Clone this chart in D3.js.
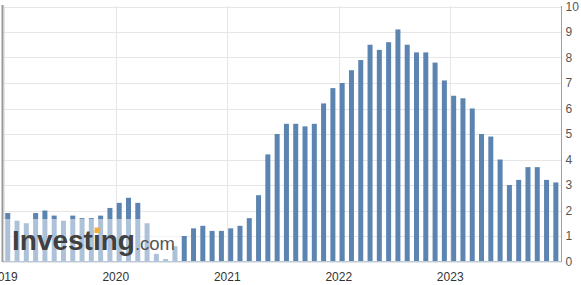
<!DOCTYPE html>
<html>
<head>
<meta charset="utf-8">
<script src="https://cdn.jsdelivr.net/npm/d3@7"></script>
<style>
  body { margin: 0; background: #fff; }
  svg { display: block; font-family: "Liberation Sans", Arial, sans-serif; }
</style>
</head>
<body>
<div id="chart"></div>
<script>
// reference month of each bar (bars sit at the release month)
const categories = ["Dec 2018","Jan 2019","Feb 2019","Mar 2019","Apr 2019","May 2019","Jun 2019","Jul 2019","Aug 2019","Sep 2019","Oct 2019","Nov 2019",
  "Dec 2019","Jan 2020","Feb 2020","Mar 2020","Apr 2020","May 2020","Jun 2020","Jul 2020","Aug 2020","Sep 2020","Oct 2020","Nov 2020",
  "Dec 2020","Jan 2021","Feb 2021","Mar 2021","Apr 2021","May 2021","Jun 2021","Jul 2021","Aug 2021","Sep 2021","Oct 2021","Nov 2021",
  "Dec 2021","Jan 2022","Feb 2022","Mar 2022","Apr 2022","May 2022","Jun 2022","Jul 2022","Aug 2022","Sep 2022","Oct 2022","Nov 2022",
  "Dec 2022","Jan 2023","Feb 2023","Mar 2023","Apr 2023","May 2023","Jun 2023","Jul 2023","Aug 2023","Sep 2023","Oct 2023","Nov 2023"];
const values = [1.9,1.6,1.5,1.9,2.0,1.8,1.6,1.8,1.7,1.7,1.8,2.1,
  2.3,2.5,2.3,1.5,0.3,0.1,0.6,1.0,1.3,1.4,1.2,1.2,
  1.3,1.4,1.7,2.6,4.2,5.0,5.4,5.4,5.3,5.4,6.2,6.8,
  7.0,7.5,7.9,8.5,8.3,8.6,9.1,8.5,8.2,8.2,7.8,7.1,
  6.5,6.4,6.0,5.0,4.9,4.0,3.0,3.2,3.7,3.7,3.2,3.1];
const yearLabels = ["2019","2020","2021","2022","2023"];
const yTicks = [0,1,2,3,4,5,6,7,8,9,10];

const width = 581, height = 285;
const barColor = "#5b84b0";
const barWidth = 5;
const barOffset = 0.37; // release lands a bit after month start

let svg = d3.select("#chart")
  .append("svg")
    .attr("width", width)
    .attr("height", height);

svg.append("rect")
  .attr("width", width)
  .attr("height", height)
  .attr("fill", "#fff");

// x runs in months from Jan 2019, y in percent
let xScale = d3.scaleLinear()
  .domain([0, 60])
  .range([4.3, 561.7]);
let yScale = d3.scaleLinear()
  .domain([0, 10])
  .range([261.5, 6.5]);

// horizontal grid
svg.append("g")
  .selectAll("line")
  .data(yTicks)
  .enter()
  .append("line")
    .attr("x1", 3)
    .attr("x2", 561.5)
    .attr("y1", d => Math.round(yScale(d)) + 0.5)
    .attr("y2", d => Math.round(yScale(d)) + 0.5)
    .attr("stroke", "#e6e6e6")
    .attr("stroke-width", 1);

// vertical grid at each year
svg.append("g")
  .selectAll("line")
  .data(yearLabels)
  .enter()
  .append("line")
    .attr("x1", (d, i) => Math.round(xScale(i * 12)) + 0.5)
    .attr("x2", (d, i) => Math.round(xScale(i * 12)) + 0.5)
    .attr("y1", 6)
    .attr("y2", 261)
    .attr("stroke", "#e6e6e6")
    .attr("stroke-width", 1);

// bars
svg.append("g")
  .selectAll("rect")
  .data(values)
  .enter()
  .append("rect")
    .attr("x", (d, i) => xScale(i + barOffset) - barWidth / 2)
    .attr("y", d => yScale(d))
    .attr("width", barWidth)
    .attr("height", d => yScale(0) - yScale(d))
    .attr("fill", barColor);

// bottom axis line
svg.append("line")
  .attr("x1", 3)
  .attr("x2", 562)
  .attr("y1", 261.5)
  .attr("y2", 261.5)
  .attr("stroke", "#b9c9dc")
  .attr("stroke-width", 1);

// year labels
svg.append("g")
  .selectAll("text")
  .data(yearLabels)
  .enter()
  .append("text")
    .text(d => d)
    .attr("x", (d, i) => xScale(i * 12))
    .attr("y", 281)
    .attr("text-anchor", "middle")
    .attr("font-size", "12px")
    .attr("fill", "#333");

// right value axis
let yAxis = d3.axisRight(yScale)
  .tickValues(yTicks)
  .tickSize(0)
  .tickPadding(4);
let yAxisG = svg.append("g")
  .attr("transform", "translate(561.5,0)")
  .call(yAxis);
yAxisG.select(".domain").remove();
yAxisG.selectAll("text")
  .attr("font-family", "Liberation Sans, Arial, sans-serif")
  .attr("font-size", "12px")
  .attr("fill", "#555");

svg.append("line")
  .attr("x1", 561.5)
  .attr("x2", 561.5)
  .attr("y1", 6)
  .attr("y2", 262)
  .attr("stroke", "#a0a0a0")
  .attr("stroke-width", 1);

// left border
svg.append("line")
  .attr("x1", 2.5)
  .attr("x2", 2.5)
  .attr("y1", 5)
  .attr("y2", 262)
  .attr("stroke", "#999")
  .attr("stroke-width", 2);

// watermark: half white box plus logo text
svg.append("rect")
  .attr("x", 3.5)
  .attr("y", 219)
  .attr("width", 177)
  .attr("height", 42)
  .attr("fill", "#fff")
  .attr("fill-opacity", 0.5);

let logo = svg.append("text")
  .attr("x", 12)
  .attr("y", 250)
  .attr("fill", "#404040");
logo.append("tspan")
  .text("Investing")
  .attr("font-size", "28px")
  .attr("font-weight", "bold");
logo.append("tspan")
  .text(".com")
  .attr("font-size", "18.5px")
  .attr("fill", "#555");

// orange dot on the second i
let textNode = logo.node();
let iStart = 12 + textNode.getSubStringLength(0, 6);
let iWidth = textNode.getSubStringLength(6, 1);
svg.append("rect")
  .attr("x", iStart + iWidth / 2 - 2.2)
  .attr("y", 227.5)
  .attr("width", 5.5)
  .attr("height", 5.5)
  .attr("fill", "#f5ac3b");
</script>
</body>
</html>
